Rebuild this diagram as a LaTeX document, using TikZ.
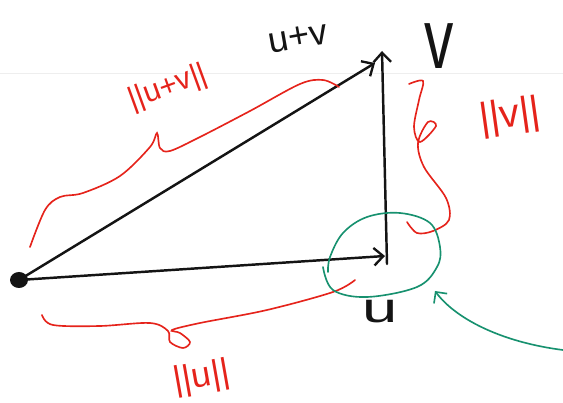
\documentclass[tikz,border=0pt]{standalone}
\usepackage{fontspec}
\setmainfont{Liberation Sans}
\usetikzlibrary{arrows.meta}
\definecolor{pen}{HTML}{141414}
\definecolor{brace}{HTML}{E5231B}
\definecolor{ring}{HTML}{17916F}
\definecolor{sheet}{HTML}{EEEEEE}

\begin{document}
\begin{tikzpicture}[x=0.03cm,y=-0.03cm,
  vec/.style={draw=pen,line width=2.1pt,line cap=round,-{Straight Barb[length=8pt,width=15pt,line width=2pt]}},
  br/.style={draw=brace,line width=1.4pt,line cap=round},
  normlbl/.style={text=brace,inner sep=0pt},
  veclbl/.style={text=pen,inner sep=0pt},
  ringline/.style={draw=ring,line width=1.4pt,line cap=round}]
\useasboundingbox (0,0) rectangle (563,403);
\draw[sheet,line width=0.6pt] (0,73) -- (563,73);
% points of the triangle
\coordinate (O) at (19,280);
\coordinate (U) at (385,256);
\coordinate (Vb) at (387,264);
\coordinate (V) at (382,51);
\coordinate (S) at (375,63);
\fill[pen] (O) circle[x radius=9,y radius=8];
\draw[vec] (O) -- (U);
\draw[vec] (O) -- (S);
\draw[vec] (Vb) -- (V);
% labels
\node[veclbl,font=\fontsize{31}{33}\selectfont,rotate=10] (Lsum) at (298,38) {u+v};
\node[veclbl,font=\fontsize{50}{52}\selectfont,yscale=1.45] (Lv) at (439,46) {v};
\node[veclbl,font=\fontsize{36}{38}\selectfont,xscale=1.5] (Lu) at (380,312) {u};
% braces
\draw[br] plot[smooth,tension=0.55] coordinates {(30,247) (45,210) (60,197) (83,193) (120,176) (150,147) (157,133) (160,148) (170,151) (200,137) (250,111) (300,84) (323,80) (339,87)};
\draw[br] plot[smooth,tension=0.55] coordinates {(409,84) (423,81) (419,100) (414,127) (420,142) (436,126) (428,122) (418,143) (424,167) (446,198) (449,220) (433,231) (417,233) (407,222)};
\draw[br] plot[smooth,tension=0.55] coordinates {(42,315) (53,325) (100,326) (150,323) (168,331) (170,342) (183,348) (190,342) (180,333) (172,330) (200,323) (267,310) (333,292) (355,280)};
\node[normlbl,font=\fontsize{26}{28}\selectfont,rotate=20] (Nsum) at (168,88) {||u+v||};
\node[normlbl,font=\fontsize{34}{36}\selectfont,rotate=8] (Nv) at (510,117) {||v||};
\node[normlbl,font=\fontsize{30}{32}\selectfont,rotate=10] (Nu) at (202,378) {||u||};
% circled tip
\draw[ringline] plot[smooth,tension=0.6] coordinates {(323,267) (333,290) (367,297) (417,287) (437,267) (440,247) (430,223) (400,213) (367,217) (343,233) (330,257) (328,272)};
\coordinate (G) at (563,350);
\draw[ringline,-{Straight Barb[length=7pt,width=14pt,line width=1.4pt]}] (G) .. controls (500,342) and (455,318) .. (435,291);
\end{tikzpicture}
\end{document}
